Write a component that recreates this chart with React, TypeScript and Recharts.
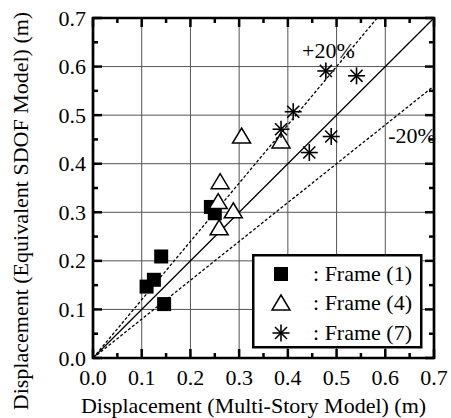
import { ScatterChart, Scatter, XAxis, YAxis, ReferenceLine, ReferenceArea, Legend } from 'recharts';

// Frame (1), (4), (7): [multi-story, equivalent SDOF] displacement (m)
const frame1 = [
  { x: 0.110, y: 0.147 },
  { x: 0.125, y: 0.161 },
  { x: 0.140, y: 0.209 },
  { x: 0.146, y: 0.111 },
  { x: 0.242, y: 0.311 },
  { x: 0.250, y: 0.298 },
];
const frame4 = [
  { x: 0.305, y: 0.457 },
  { x: 0.261, y: 0.363 },
  { x: 0.257, y: 0.322 },
  { x: 0.259, y: 0.268 },
  { x: 0.288, y: 0.303 },
  { x: 0.386, y: 0.447 },
];
const frame7 = [
  { x: 0.478, y: 0.591 },
  { x: 0.541, y: 0.581 },
  { x: 0.411, y: 0.507 },
  { x: 0.386, y: 0.471 },
  { x: 0.444, y: 0.423 },
  { x: 0.489, y: 0.456 },
];

// reference lines y = slope * x
const slopes = [1, 1.2, 0.8];
const bandLabels = [
  { x: 0.429, y: 0.618, text: '+20%' },
  { x: 0.606, y: 0.443, text: '-20%' },
];

const ticks = [0, 0.05, 0.1, 0.15, 0.2, 0.25, 0.3, 0.35, 0.4, 0.45, 0.5, 0.55, 0.6, 0.65, 0.7];
const gridValues = [0.1, 0.2, 0.3, 0.4, 0.5, 0.6];
const MAX = 0.7;

const PLOT = { left: 93, right: 434, top: 18, bottom: 358 };
const TXT = {
  fontFamily: '"Liberation Serif", "Times New Roman", serif',
  fontSize: '22px',
  fill: '#000',
};

const isMajor = (v: number) => Math.round(v * 100) % 10 === 0;

const XTick = (props: any) => {
  const { x, payload } = props;
  const v = payload.value;
  const len = isMajor(v) ? 9 : 5;
  return (
    <g>
      <line x1={x} y1={PLOT.bottom} x2={x} y2={PLOT.bottom - len} stroke="#000" strokeWidth={2.5} />
      <line x1={x} y1={PLOT.top} x2={x} y2={PLOT.top + len} stroke="#000" strokeWidth={2.5} />
      {isMajor(v) && (
        <text x={x} y={385} textAnchor="middle" style={TXT}>
          {v.toFixed(1)}
        </text>
      )}
    </g>
  );
};

const YTick = (props: any) => {
  const { y, payload } = props;
  const v = payload.value;
  const len = isMajor(v) ? 9 : 5;
  return (
    <g>
      <line x1={PLOT.left} y1={y} x2={PLOT.left + len} y2={y} stroke="#000" strokeWidth={2.5} />
      <line x1={PLOT.right} y1={y} x2={PLOT.right - len} y2={y} stroke="#000" strokeWidth={2.5} />
      {isMajor(v) && (
        <text x={86} y={y + 7.5} textAnchor="end" style={TXT}>
          {v.toFixed(1)}
        </text>
      )}
    </g>
  );
};

const Square = ({ cx, cy }: any) => <rect x={cx - 7} y={cy - 7} width={14} height={14} fill="#000" />;

const Triangle = ({ cx, cy }: any) => (
  <polygon
    points={`${cx},${cy - 8} ${cx - 9},${cy + 7} ${cx + 9},${cy + 7}`}
    fill="#fff"
    stroke="#000"
    strokeWidth={1.5}
  />
);

const Star = ({ cx, cy }: any) => {
  const r = 8.5;
  const d = r * 0.7071;
  return (
    <g stroke="#000" strokeWidth={1.6}>
      <line x1={cx - r} y1={cy} x2={cx + r} y2={cy} />
      <line x1={cx} y1={cy - r} x2={cx} y2={cy + r} />
      <line x1={cx - d} y1={cy - d} x2={cx + d} y2={cy + d} />
      <line x1={cx - d} y1={cy + d} x2={cx + d} y2={cy - d} />
    </g>
  );
};

const BandLabel = ({ cx, cy, payload }: any) => (
  <text x={cx} y={cy} style={TXT}>
    {payload.text}
  </text>
);

const markers = [Square, Triangle, Star];

const LegendBox = ({ payload }: any) => {
  const items = (payload || []).filter((p: any) => p.type !== 'none');
  const rowY = [20, 49, 79];
  return (
    <svg width={171} height={95} style={{ display: 'block' }}>
      <rect x={1.25} y={1.25} width={168} height={92} fill="#fff" stroke="#000" strokeWidth={2.5} />
      {items.map((item: any, i: number) => {
        const M = markers[i];
        return (
          <g key={item.value}>
            <M cx={29} cy={rowY[i]} />
            <text x={61} y={rowY[i] + 6.5} style={TXT}>
              : {item.value}
            </text>
          </g>
        );
      })}
    </svg>
  );
};

export default function App() {
  return (
    <div style={{ position: 'absolute', left: 0, top: 0, background: '#fff' }}>
      <ScatterChart width={451} height={418} margin={{ top: 18, right: 17, bottom: 0, left: 0 }}>
        {gridValues.map((v) => (
          <ReferenceLine key={`gx${v}`} x={v} stroke="#555" strokeWidth={1} />
        ))}
        {gridValues.map((v) => (
          <ReferenceLine key={`gy${v}`} y={v} stroke="#555" strokeWidth={1} />
        ))}
        <XAxis
          type="number"
          dataKey="x"
          domain={[0, MAX]}
          ticks={ticks}
          interval={0}
          height={60}
          tickLine={false}
          axisLine={false}
          tick={<XTick />}
          label={{
            content: () => (
              <text x={253.5} y={413} textAnchor="middle" style={TXT}>
                Displacement (Multi-Story Model) (m)
              </text>
            ),
          }}
        />
        <YAxis
          type="number"
          dataKey="y"
          domain={[0, MAX]}
          ticks={ticks}
          interval={0}
          width={93}
          tickLine={false}
          axisLine={false}
          tick={<YTick />}
          label={{
            content: () => (
              <text x={28} y={211} transform="rotate(-90, 28, 211)" textAnchor="middle" style={TXT}>
                Displacement (Equivalent SDOF Model) (m)
              </text>
            ),
          }}
        />
        {slopes.map((s) => (
          <ReferenceLine
            key={`s${s}`}
            segment={[
              { x: 0, y: 0 },
              { x: Math.min(MAX, MAX / s), y: Math.min(MAX, MAX * s) },
            ]}
            stroke="#000"
            strokeWidth={1.3}
            strokeDasharray={s === 1 ? undefined : '3 2'}
          />
        ))}
        <Scatter name="Frame (1)" data={frame1} shape={<Square />} isAnimationActive={false} />
        <Scatter name="Frame (4)" data={frame4} shape={<Triangle />} isAnimationActive={false} />
        <Scatter name="Frame (7)" data={frame7} shape={<Star />} isAnimationActive={false} />
        <Scatter data={bandLabels} shape={<BandLabel />} legendType="none" isAnimationActive={false} />
        <ReferenceArea
          x1={0}
          x2={MAX}
          y1={0}
          y2={MAX}
          fill="none"
          fillOpacity={0}
          stroke="#000"
          strokeWidth={2.7}
          zIndex={700}
        />
        <Legend
          layout="vertical"
          align="center"
          verticalAlign="middle"
          wrapperStyle={{ left: 252, top: 254, width: 171, height: 95 }}
          content={<LegendBox />}
        />
      </ScatterChart>
    </div>
  );
}
